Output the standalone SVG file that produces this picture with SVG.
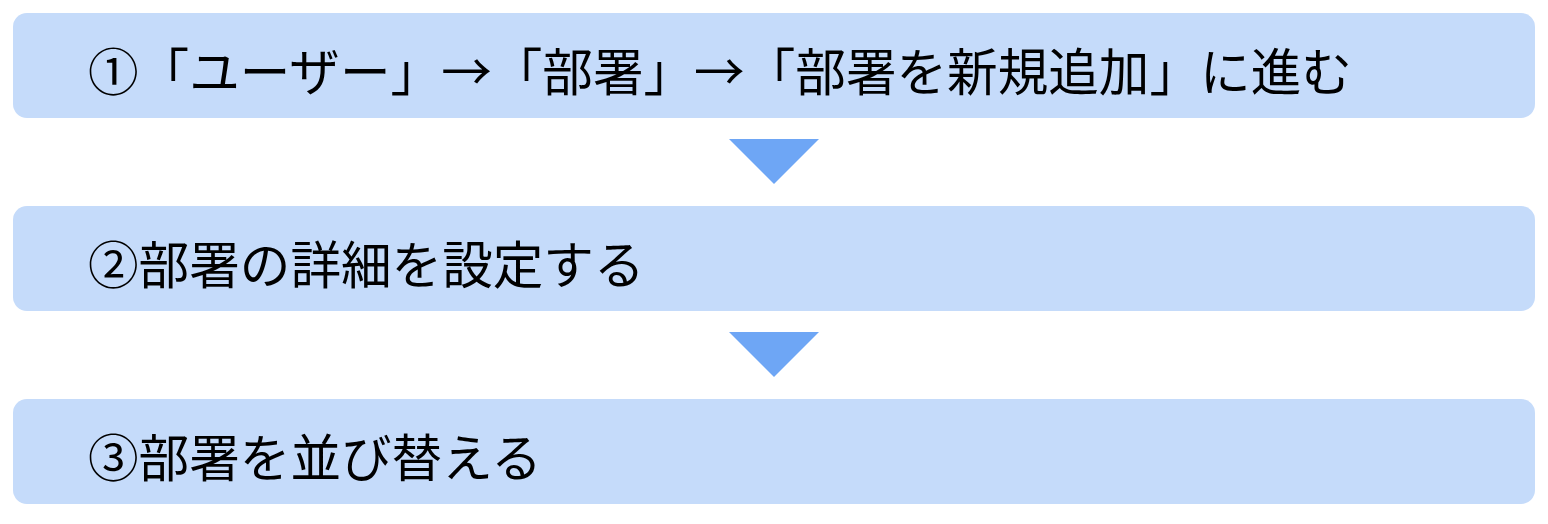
<svg xmlns="http://www.w3.org/2000/svg" width="1548" height="524" viewBox="0 0 1548 524">
<style>
.box{fill:#c5dbfa}
.arr{fill:#6ea6f5}
.t{font-family:"Noto Sans CJK JP","Noto Sans CJK SC",sans-serif;font-size:50.6px;fill:#000}
</style>
<rect width="1548" height="524" fill="#ffffff"/>
<g id="node1"><rect class="box" x="13" y="13" width="1522" height="105" rx="14"/><text class="t" x="88" y="91">①「ユーザー」→「部署」→「部署を新規追加」に進む</text></g>
<g id="node2"><rect class="box" x="13" y="206" width="1522" height="105" rx="14"/><text class="t" x="88" y="284">②部署の詳細を設定する</text></g>
<g id="node3"><rect class="box" x="13" y="399" width="1522" height="105" rx="14"/><text class="t" x="88" y="477">③部署を並び替える</text></g>
<g id="connectors">
<polygon class="arr" points="729,139 819,139 774,184"/>
<polygon class="arr" points="729,332 819,332 774,377"/>
</g>
</svg>
